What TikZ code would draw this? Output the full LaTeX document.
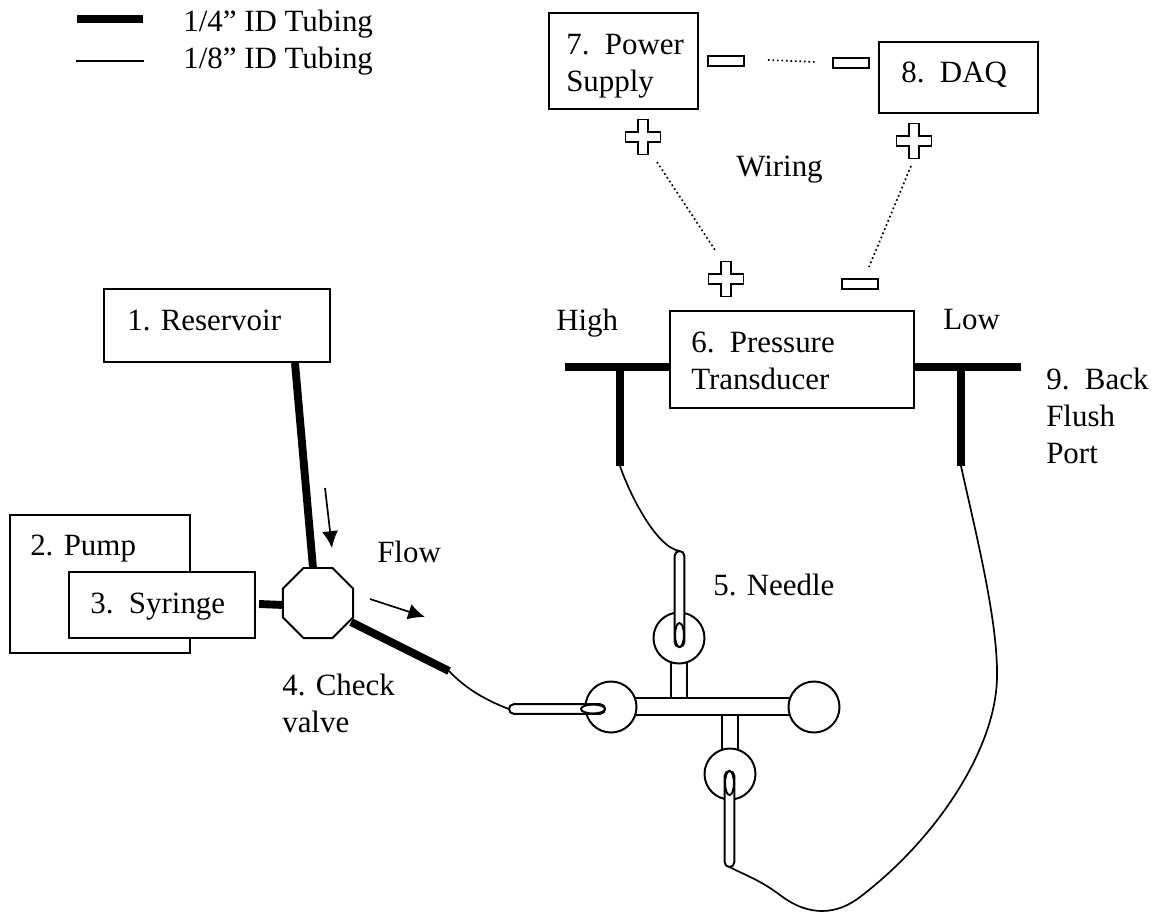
\documentclass[tikz,border=0pt]{standalone}
\usepackage{fontspec}
\setmainfont{Liberation Serif}
\usetikzlibrary{arrows.meta,shapes.geometric,shapes.misc}
\tikzset{
  lbl/.style={anchor=base west, inner sep=0pt, align=left, font=\fontsize{22}{26.3}\selectfont},
  boxnode/.style={draw=black, line width=1.4pt, fill=white, inner sep=0pt, outer sep=0pt},
  minusnode/.style={boxnode, minimum width=0.9cm, minimum height=0.25cm},
  portnode/.style={draw=black, line width=1.4pt, fill=white, circle, minimum size=1.275cm, inner sep=0pt, outer sep=0pt},
  stemnode/.style={boxnode, minimum width=0.4cm, minimum height=0.9cm},
  capsule/.style={draw=black, line width=1.4pt, fill=white, rounded rectangle, minimum width=2.4cm, minimum height=0.24cm, inner sep=0pt, outer sep=0pt},
  tipnode/.style={draw=black, line width=1.4pt, fill=white, ellipse, inner sep=0pt, outer sep=0pt},
  tubewide/.style={line width=5.6pt, black},
  tubethin/.style={line width=1.2pt, black},
  wire/.style={line width=1.2pt, dotted, black},
  flow/.style={line width=1.2pt, -{Latex[length=0.42cm,width=0.4cm]}},
  pics/plussign/.style={code={
    \draw[line width=1.4pt, fill=white] (-5,-17.5) -- (5,-17.5) -- (5,-5) -- (17.5,-5) -- (17.5,5) -- (5,5) -- (5,17.5) -- (-5,17.5) -- (-5,5) -- (-17.5,5) -- (-17.5,-5) -- (-5,-5) -- cycle;
  }}
}
\begin{document}
\begin{tikzpicture}[x=0.025cm, y=-0.025cm]
\useasboundingbox (0,0) rectangle (1152,916);
% Legend
\coordinate (wideA) at (77,19);
\coordinate (wideB) at (143,19);
\coordinate (thinA) at (76,61);
\coordinate (thinB) at (144,61);
\draw[tubewide, line width=6pt] (wideA) -- (wideB);
\draw[tubethin] (thinA) -- (thinB);
\node[lbl] (legwide) at (183,31) {1/4” ID Tubing};
\node[lbl] (legthin) at (183,68) {1/8” ID Tubing};
% Boxes
\node[boxnode, minimum width=5.65cm, minimum height=1.825cm] (reservoir) at (217,325.5) {};
\node[boxnode, minimum width=4.5cm, minimum height=3.45cm] (pump) at (100,584) {};
\node[boxnode, minimum width=4.65cm, minimum height=1.65cm] (syringe) at (162,605) {};
\node[boxnode, minimum width=6.1cm, minimum height=2.425cm] (transducer) at (792,359.5) {};
\node[boxnode, minimum width=3.725cm, minimum height=2.4cm] (supply) at (623.5,61) {};
\node[boxnode, minimum width=3.975cm, minimum height=1.775cm] (daq) at (958.5,77.5) {};
% Wide tubing
\coordinate (resOut) at (295,363);
\coordinate (valveIn) at (313,568);
\coordinate (syrOut) at (259,604);
\coordinate (valveSyr) at (284,605);
\coordinate (valveOut) at (351,622);
\coordinate (wideEnd) at (449,671);
\draw[tubewide] (resOut) -- (valveIn);
\draw[tubewide] (syrOut) -- (valveSyr);
\draw[tubewide] (valveOut) -- (wideEnd);
\coordinate (highL) at (565,367);
\coordinate (highT) at (620,367);
\coordinate (highEnd) at (620,466);
\coordinate (lowL) at (914,367);
\coordinate (lowR) at (1021,367);
\coordinate (lowT) at (961,367);
\coordinate (lowEnd) at (961,466);
\draw[tubewide] (highL) -- (transducer.west |- highL);
\draw[tubewide] (highT) -- (highEnd);
\draw[tubewide] (lowL) -- (lowR);
\draw[tubewide] (lowT) -- (lowEnd);
% Check valve
\node[draw=black, line width=1.4pt, fill=white, regular polygon, regular polygon sides=8, minimum size=1.895cm, inner sep=0pt, outer sep=0pt] (valve) at (318,603) {};
% Tee and ports
\node[boxnode, minimum width=3.9cm, minimum height=0.425cm] (teebar) at (712,706.5) {};
\node[stemnode] (stemtop) at (679,680) {};
\node[stemnode] (stembot) at (730,733) {};
\node[portnode] (porttop) at (679,638) {};
\node[portnode] (portleft) at (611,707) {};
\node[portnode] (portright) at (814,707) {};
\node[portnode] (portbot) at (730,774) {};
% Needles
\node[capsule, rotate=90] (needletop) at (679.5,599) {};
\node[tipnode, minimum width=0.225cm, minimum height=0.6cm] (tiptop) at (679.5,635) {};
\node[capsule] (needleleft) at (557,709) {};
\node[tipnode, minimum width=0.6cm, minimum height=0.225cm] (tipleft) at (593,709) {};
\node[capsule, rotate=90] (needlebot) at (729.5,819) {};
\node[tipnode, minimum width=0.225cm, minimum height=0.6cm] (tipbot) at (729.5,783) {};
% Thin tubing
\draw[tubethin] (wideEnd) .. controls (465,688) and (485,700) .. (needleleft.west);
\draw[tubethin] (highEnd) .. controls (628,490) and (655,547) .. (needletop.east);
\draw[tubethin] (lowEnd) .. controls (975,530) and (998,620) .. (997,677) .. controls (996,750) and (935,840) .. (860,897) .. controls (838,914) and (810,918) .. (780,895) .. controls (760,880) and (745,875) .. (needlebot.west);
% Flow arrows
\coordinate (flowA) at (325,488);
\coordinate (flowB) at (332,548);
\coordinate (flowC) at (370,599);
\coordinate (flowD) at (425,617);
\draw[flow] (flowA) -- (flowB);
\draw[flow] (flowC) -- (flowD);
% Terminals
\node[minusnode] (minusps) at (726,61) {};
\node[minusnode] (minusdaq) at (851,63) {};
\node[minusnode] (minustr) at (860,284) {};
\coordinate (plusps) at (643,137);
\coordinate (plusdaq) at (914,141);
\coordinate (plustr) at (726,279);
\pic at (plusps) {plussign};
\pic at (plusdaq) {plussign};
\pic at (plustr) {plussign};
% Wiring
\coordinate (wireA) at (768,60);
\coordinate (wireB) at (817,62);
\coordinate (wireC) at (657,162);
\coordinate (wireD) at (715,250);
\coordinate (wireE) at (911,166);
\coordinate (wireF) at (869,267);
\draw[wire] (wireA) -- (wireB);
\draw[wire] (wireC) -- (wireD);
\draw[wire] (wireE) -- (wireF);
% Labels
\node[lbl] (lblres) at (127,330) {1. Reservoir};
\node[lbl] (lblpump) at (30,555) {2. Pump};
\node[lbl] (lblsyr) at (90,613) {3.\ \ Syringe};
\node[lbl] (lblflow) at (377,562) {Flow};
\node[lbl] (lblcheck) at (282,695) {4. Check};
\node[lbl] (lblvalve) at (282,732) {valve};
\node[lbl] (lblneedle) at (713,595) {5. Needle};
\node[lbl] (lblpress) at (691,352) {6.\ \ Pressure};
\node[lbl] (lbltrans) at (691,389) {Transducer};
\node[lbl] (lblhigh) at (556,330) {High};
\node[lbl] (lbllow) at (943,329) {Low};
\node[lbl] (lblpower) at (566,54) {7.\ \ Power};
\node[lbl] (lblsupply) at (566,91) {Supply};
\node[lbl] (lbldaq) at (901,82) {8.\ \ DAQ};
\node[lbl] (lblwiring) at (736,176) {Wiring};
\node[lbl] (lblback) at (1046,389) {9.\ \ Back};
\node[lbl] (lblflush) at (1046,426) {Flush};
\node[lbl] (lblport) at (1046,463) {Port};
\end{tikzpicture}
\end{document}
